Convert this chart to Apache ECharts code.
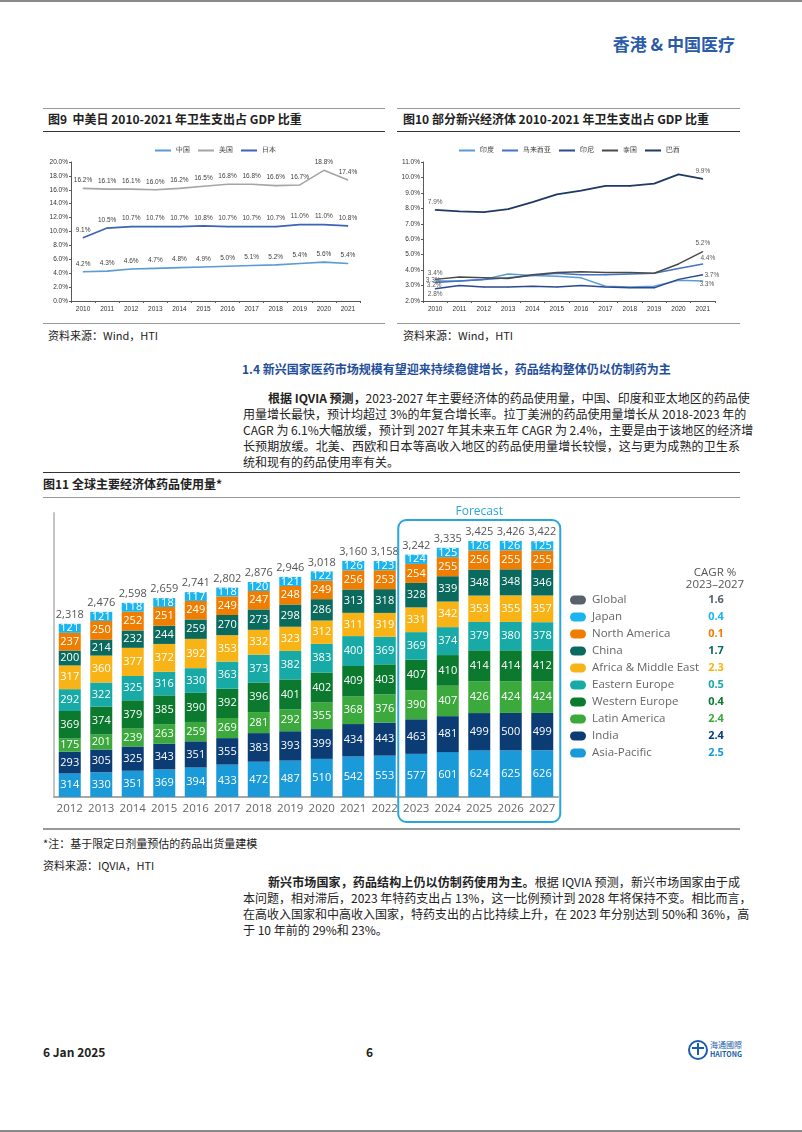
<!DOCTYPE html>
<html><head><meta charset="utf-8">
<script src="https://cdn.jsdelivr.net/npm/echarts@6/dist/echarts.min.js"></script>
<style>
body{margin:0;background:#fff;}
#page{position:relative;width:802px;height:1132px;overflow:hidden;font-family:"Noto Sans CJK SC","Liberation Sans",sans-serif;color:#222;}
.abs{position:absolute;white-space:nowrap;}
.rule{position:absolute;height:0;}
.pl{position:absolute;left:243px;width:497px;font-size:12px;line-height:16px;height:16px;text-align:justify;text-align-last:justify;white-space:nowrap;color:#222;}
.pl.first{left:268px;width:472px;}
.pl.last{text-align-last:left;}
.ttl{font-size:12px;font-weight:bold;line-height:16px;}
.src{font-size:11px;line-height:14px;color:#222;}
</style></head>
<body>
<div id="page">
  <div class="rule" style="left:0;top:0;width:802px;border-top:2px solid #8a8a8a;"></div>
  <div class="rule" style="left:0;top:1130px;width:802px;border-top:2px solid #8a8a8a;"></div>

  <div class="abs" style="right:67px;top:32px;font-size:17px;font-weight:bold;color:#2a5aa8;line-height:24px;">香港 &amp; 中国医疗</div>

  <div class="rule" style="left:43px;top:108px;width:342px;border-top:1px solid #999;"></div>
  <div class="rule" style="left:397px;top:108px;width:343px;border-top:1px solid #999;"></div>
  <div class="abs ttl" style="left:48px;top:111px;">图9&nbsp; 中美日 2010-2021 年卫生支出占 GDP 比重</div>
  <div class="abs ttl" style="left:403px;top:111px;">图10 部分新兴经济体 2010-2021 年卫生支出占 GDP 比重</div>
  <div class="rule" style="left:43px;top:131px;width:342px;border-top:1.5px solid #333;"></div>
  <div class="rule" style="left:397px;top:131px;width:343px;border-top:1.5px solid #333;"></div>

  <div id="c9" style="position:absolute;left:43px;top:138px;width:345px;height:182px;"></div>
  <div id="c10" style="position:absolute;left:397px;top:138px;width:345px;height:182px;"></div>

  <div class="rule" style="left:43px;top:323px;width:342px;border-top:1px solid #999;"></div>
  <div class="rule" style="left:397px;top:323px;width:343px;border-top:1px solid #999;"></div>
  <div class="abs src" style="left:48px;top:328px;">资料来源：Wind，HTI</div>
  <div class="abs src" style="left:403px;top:328px;">资料来源：Wind，HTI</div>

  <div class="abs" style="left:242px;top:361px;font-size:12px;font-weight:bold;color:#1f4e9a;line-height:16px;">1.4 新兴国家医药市场规模有望迎来持续稳健增长，药品结构整体仍以仿制药为主</div>

  <div class="pl first" style="top:390px;"><b>根据 IQVIA 预测，</b>2023-2027 年主要经济体的药品使用量，中国、印度和亚太地区的药品使</div>
  <div class="pl" style="top:406px;">用量增长最快，预计均超过 3%的年复合增长率。拉丁美洲的药品使用量增长从 2018-2023 年的</div>
  <div class="pl" style="top:422px;">CAGR 为 6.1%大幅放缓，预计到 2027 年其未来五年 CAGR 为 2.4%，主要是由于该地区的经济增</div>
  <div class="pl" style="top:438px;">长预期放缓。北美、西欧和日本等高收入地区的药品使用量增长较慢，这与更为成熟的卫生系</div>
  <div class="pl last" style="top:454px;">统和现有的药品使用率有关。</div>

  <div class="rule" style="left:43px;top:472px;width:697px;border-top:1.5px solid #333;"></div>
  <div class="abs ttl" style="left:43px;top:476px;">图11 全球主要经济体药品使用量*</div>
  <div class="rule" style="left:43px;top:497px;width:697px;border-top:1px solid #999;"></div>

  <div id="c11" style="position:absolute;left:43px;top:500px;width:720px;height:330px;"></div>

  <div class="rule" style="left:43px;top:828px;width:697px;border-top:2px solid #999;"></div>
  <div class="abs src" style="left:43px;top:836px;">*注：基于限定日剂量预估的药品出货量建模</div>
  <div class="abs src" style="left:43px;top:858px;">资料来源：IQVIA，HTI</div>

  <div class="pl first" style="top:874px;"><b>新兴市场国家，药品结构上仍以仿制药使用为主。</b>根据 IQVIA 预测，新兴市场国家由于成</div>
  <div class="pl" style="top:890px;">本问题，相对滞后，2023 年特药支出占 13%，这一比例预计到 2028 年将保持不变。相比而言，</div>
  <div class="pl" style="top:906px;">在高收入国家和中高收入国家，特药支出的占比持续上升，在 2023 年分别达到 50%和 36%，高</div>
  <div class="pl last" style="top:922px;">于 10 年前的 29%和 23%。</div>

  <div class="abs" style="left:43px;top:1044px;font-size:12px;font-weight:bold;line-height:16px;">6 Jan 2025</div>
  <div class="abs" style="left:366px;top:1044px;font-size:12px;font-weight:bold;line-height:16px;">6</div>
  <div class="abs" style="left:688px;top:1040px;width:16px;height:16px;border:2px solid #1b5eab;border-radius:50%;"></div>
  <div class="abs" style="left:692px;top:1047px;width:12px;height:0;border-top:2px solid #1b5eab;"></div>
  <div class="abs" style="left:697px;top:1043px;width:0;height:12px;border-left:2px solid #1b5eab;"></div>
  <div class="abs" style="left:710px;top:1040px;font-size:8px;line-height:9px;color:#1b5eab;">海通國際<br><span style="font-size:7px;font-weight:bold;">HAITONG</span></div>
</div>

<script>
// ---------- Fig 9 data ----------
const lineYears = ['2010','2011','2012','2013','2014','2015','2016','2017','2018','2019','2020','2021'];
const gdpChina = [4.2,4.3,4.6,4.7,4.8,4.9,5.0,5.1,5.2,5.4,5.6,5.4];
const gdpUS    = [16.2,16.1,16.1,16.0,16.2,16.5,16.8,16.8,16.6,16.7,18.8,17.4];
const gdpJapan = [9.1,10.5,10.7,10.7,10.7,10.8,10.7,10.7,10.7,11.0,11.0,10.8];

// ---------- Fig 10 data ----------
const gdpIndia     = [3.3,3.3,3.4,3.75,3.65,3.6,3.5,2.95,2.9,2.95,3.35,3.3];
const gdpMalaysia  = [3.2,3.3,3.4,3.5,3.65,3.8,3.7,3.7,3.75,3.8,4.1,4.4];
const gdpIndonesia = [2.8,3.0,2.9,2.9,2.95,2.9,3.0,2.9,2.85,2.85,3.4,3.7];
const gdpThailand  = [3.4,3.55,3.5,3.45,3.7,3.85,3.9,3.85,3.85,3.8,4.4,5.2];
const gdpBrazil    = [7.9,7.8,7.75,7.95,8.4,8.9,9.15,9.45,9.45,9.6,10.2,9.9];

// ---------- Fig 11 data ----------
const barYears = ['2012','2013','2014','2015','2016','2017','2018','2019','2020','2021','2022','2023','2024','2025','2026','2027'];
const asiaPacific      = [314,330,351,369,394,433,472,487,510,542,553,577,601,624,625,626];
const india            = [293,305,325,343,351,355,383,393,399,434,443,463,481,499,500,499];
const latinAmerica     = [175,201,239,263,259,269,281,292,355,368,376,390,407,426,424,424];
const westernEurope    = [369,374,379,385,390,392,396,401,402,409,403,407,410,414,414,412];
const easternEurope    = [292,322,325,316,330,363,373,382,383,400,369,369,374,379,380,378];
const africaMiddleEast = [317,360,377,372,392,353,332,323,312,311,319,331,342,353,355,357];
const china            = [200,214,232,244,259,270,273,298,286,313,318,328,339,348,348,346];
const northAmerica     = [237,250,252,251,249,249,247,248,249,256,253,254,255,256,255,255];
const japan            = [121,121,118,118,117,118,120,121,122,126,123,124,125,126,126,125];
const totals           = [2318,2476,2598,2659,2741,2802,2876,2946,3018,3160,3158,3242,3335,3425,3426,3422];
const legendNames = ['Global','Japan','North America','China','Africa & Middle East','Eastern Europe','Western Europe','Latin America','India','Asia-Pacific'];
const cagrValues  = ['1.6','0.4','0.1','1.7','2.3','0.5','0.4','2.4','2.4','2.5'];

// ---------- shared line chart base ----------
const smallAxis = {fontSize:6.5,color:'#333',fontFamily:'Liberation Sans'};
function lineBase(min,max,interval){
  return {
    animation:false,
    xAxis:{type:'category',data:lineYears,axisLine:{lineStyle:{color:'#595959'}},axisTick:{show:true,length:2,lineStyle:{color:'#595959'}},axisLabel:Object.assign({margin:5,interval:0},smallAxis)},
    yAxis:{type:'value',min:min,max:max,interval:interval,axisLine:{show:true,lineStyle:{color:'#595959'}},axisTick:{show:true,length:2,lineStyle:{color:'#595959'}},splitLine:{show:false},axisLabel:Object.assign({margin:3,formatter:v=>v.toFixed(1)+'%'},smallAxis)},
  };
}
function lineSeries(name,data,color,width,label){
  return {name:name,type:'line',data:data,symbol:'circle',symbolSize:1,showSymbol:true,
    lineStyle:{width:width,color:color},itemStyle:{color:color},label:label,emphasis:{disabled:true}};
}

// ---------- Fig 9 ----------
const c9 = echarts.init(document.getElementById('c9'));
const o9 = lineBase(0,20,2);
o9.grid = {left:28,right:28,top:24,bottom:19};
o9.legend = {top:4,left:'center',icon:'rect',itemWidth:16,itemHeight:2,itemGap:8,textStyle:{fontSize:6.5,color:'#333'}};
const lbl9 = {show:true,position:'top',distance:4,fontSize:6.5,color:'#404040',fontFamily:'Liberation Sans',formatter:p=>p.value.toFixed(1)+'%'};
o9.series = [
  lineSeries('中国',gdpChina,'#5b9bd5',1.6,lbl9),
  lineSeries('美国',gdpUS,'#a5a5a5',1.6,lbl9),
  lineSeries('日本',gdpJapan,'#3c63b6',1.8,lbl9)
];
c9.setOption(o9);

// ---------- Fig 10 ----------
const c10 = echarts.init(document.getElementById('c10'));
const o10 = lineBase(2,11,1);
o10.grid = {left:26,right:27,top:24,bottom:19};
o10.legend = {top:4,left:'center',icon:'rect',itemWidth:16,itemHeight:2,itemGap:8,textStyle:{fontSize:6.5,color:'#333'}};
function endLabels(arr, first, last){
  return arr.map((v,i)=>{
    let cfg = null;
    if(i===0) cfg = first; else if(i===arr.length-1) cfg = last;
    if(!cfg) return v;
    return {value:v,label:Object.assign({show:true,fontSize:6.5,color:'#595959',fontFamily:'Liberation Sans',distance:4,formatter:p=>p.value.toFixed(1)+'%'},cfg)};
  });
}
o10.series = [
  lineSeries('印度',endLabels(gdpIndia,{position:'top',offset:[-2,7]},{position:'bottom',offset:[4,-5]}),'#5b9bd5',1.5,{show:false}),
  lineSeries('马来西亚',endLabels(gdpMalaysia,{position:'bottom',offset:[-1,-5]},{position:'top',offset:[5,2]}),'#4472c4',1.5,{show:false}),
  lineSeries('印尼',endLabels(gdpIndonesia,{position:'bottom',distance:2},{position:'top',offset:[9,8]}),'#2b4a8e',1.5,{show:false}),
  lineSeries('泰国',endLabels(gdpThailand,{position:'top',offset:[0,2]},{position:'top'}),'#4a4a4a',1.5,{show:false}),
  lineSeries('巴西',endLabels(gdpBrazil,{position:'top'},{position:'top'}),'#1f3864',1.8,{show:false})
];
c10.setOption(o10);

// ---------- Fig 11 ----------
const c11 = echarts.init(document.getElementById('c11'));
const stackNames  = ['Asia-Pacific','India','Latin America','Western Europe','Eastern Europe','Africa & Middle East','China','North America','Japan'];
const stackData   = [asiaPacific,india,latinAmerica,westernEurope,easternEurope,africaMiddleEast,china,northAmerica,japan];
const colorMap = {'Global':'#58626b','Japan':'#1ab4ee','North America':'#ef7d00','China':'#0a6a5d','Africa & Middle East':'#f8b416',
  'Eastern Europe':'#17aaa6','Western Europe':'#0b7a2f','Latin America':'#3ba93c','India':'#0b3c74','Asia-Pacific':'#1a9ad9'};
const s11 = stackData.map((d,i)=>({
  name:stackNames[i],type:'bar',stack:'total',barWidth:22,data:d,
  itemStyle:{color:colorMap[stackNames[i]]},
  label:{show:true,position:'inside',color:'#fff',fontSize:11,fontFamily:'Open Sans'}
}));
s11.push({name:'Total',type:'line',data:totals,symbol:'circle',symbolSize:1,showSymbol:true,
  itemStyle:{color:'rgba(0,0,0,0)'},lineStyle:{opacity:0},z:10,emphasis:{disabled:true},
  label:{show:true,position:'top',distance:3,color:'#555',fontSize:11,fontFamily:'Open Sans',formatter:p=>p.value.toLocaleString('en-US')}});
c11.setOption({
  animation:false,
  grid:{left:11,right:205,top:13,bottom:33},
  xAxis:{type:'category',data:barYears,axisLine:{lineStyle:{color:'#a8a8a8',width:2}},axisTick:{show:false},
    axisLabel:{color:'#666',fontSize:11.5,fontFamily:'Open Sans',margin:6,interval:0}},
  yAxis:{type:'value',min:0,max:3800,axisLine:{show:true,lineStyle:{color:'#c4c4c4',width:2}},axisTick:{show:false},axisLabel:{show:false},splitLine:{show:false}},
  series:s11
});
const bx0 = c11.convertToPixel({xAxisIndex:0},'2023') - 18;
const bx1 = c11.convertToPixel({xAxisIndex:0},'2027') + 18;
const g = [
  {type:'rect',shape:{x:bx0,y:20,width:bx1-bx0,height:302,r:8},style:{fill:'none',stroke:'#2aa6de',lineWidth:2},z:20},
  {type:'text',style:{x:(bx0+bx1)/2,y:12,text:'Forecast',fill:'#2aa6de',font:'12px "Open Sans"',textAlign:'center',textVerticalAlign:'middle'},z:20},
  {type:'text',style:{x:672,y:73,text:'CAGR %',fill:'#555',font:'11.5px "Open Sans"',textAlign:'center',textVerticalAlign:'middle'}},
  {type:'text',style:{x:672,y:85,text:'2023–2027',fill:'#555',font:'11.5px "Open Sans"',textAlign:'center',textVerticalAlign:'middle'}}
];
legendNames.forEach((n,i)=>{
  const y = 100 + 17*i;
  g.push({type:'rect',shape:{x:527,y:y-4.5,width:16,height:9,r:4.5},style:{fill:colorMap[n]}});
  g.push({type:'text',style:{x:549,y:y,text:n,fill:'#666',font:'11.5px "Open Sans"',textVerticalAlign:'middle'}});
  g.push({type:'text',style:{x:673,y:y,text:cagrValues[i],fill:colorMap[n],font:'bold 11px "Open Sans"',textAlign:'center',textVerticalAlign:'middle'}});
});
c11.setOption({graphic:g});
</script>
</body></html>
